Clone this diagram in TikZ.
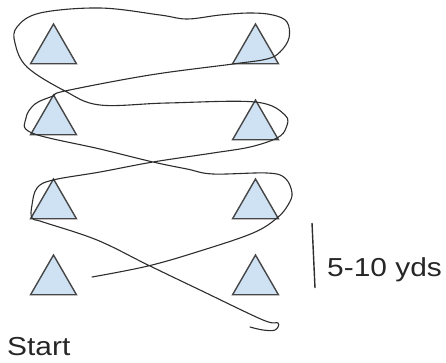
\documentclass[tikz,border=0pt]{standalone}
\usepackage{fontspec}
\setmainfont{Liberation Sans}
\usepackage{tikz}
\usetikzlibrary{shapes.geometric}
\definecolor{cfill}{RGB}{207,226,243}
\definecolor{cedge}{RGB}{70,70,70}
\definecolor{cpath}{RGB}{45,45,45}

\begin{document}
\begin{tikzpicture}[x=1pt, y=-1pt,
  cone/.style={regular polygon, regular polygon sides=3, draw=cedge, fill=cfill,
               line width=1.4pt, inner sep=0pt, minimum size=53pt},
  lbl/.style={font=\fontsize{26}{30}\selectfont, text=black!85, inner sep=0pt, xscale=1.15},
  run/.style={draw=cpath, line width=1.1pt, line cap=round, line join=round}]
\useasboundingbox (0,0) rectangle (446,362);
% cones, left and right column
\node[cone] (l1) at (53.5,50.5)  {};
\node[cone] (r1) at (255.5,50.5) {};
\node[cone] (l2) at (53.5,121.5) {};
\node[cone] (r2) at (255.5,126.5) {};
\node[cone] (l3) at (53.5,205.5) {};
\node[cone] (r3) at (255.5,205.5) {};
\node[cone] (l4) at (53.5,281.5) {};
\node[cone] (r4) at (255.5,281.5) {};
% the run
\draw[run] plot[smooth, tension=0.6] coordinates {
  (92,277) (148,266) (200,251) (253,233) (277,218) (288,205) (292,193)
  (285,178) (267,173) (213,174) (187,169) (153,162) (100,149) (32,133)
  (26,118) (35,104) (53,96) (65,91) (150,75) (233,64) (267,59) (280,52)
  (289,38) (287,22) (273,15) (250,13) (220,15) (187,19) (160,15) (100,8)
  (40,13) (17,27) (15,43) (27,67) (65,91) (100,105) (167,103) (255,102)
  (285,115) (286,128) (277,138) (250,147) (213,153) (153,162) (100,172)
  (53,180) (37,188) (32,205) (32,218) (43,222) (97,240) (148,265)
  (200,290) (263,320) (278,323) (275,330) (263,330) (250,327)};
% distance mark
\coordinate (mtop) at (312,223);
\coordinate (mbot) at (315,288);
\draw[draw=cpath, line width=1.4pt] (mtop) -- (mbot);
\node[lbl, anchor=base west] (dist) at (327,276) {5-10 yds};
\node[lbl, anchor=base west] (start) at (7,355) {Start};
\end{tikzpicture}
\end{document}
